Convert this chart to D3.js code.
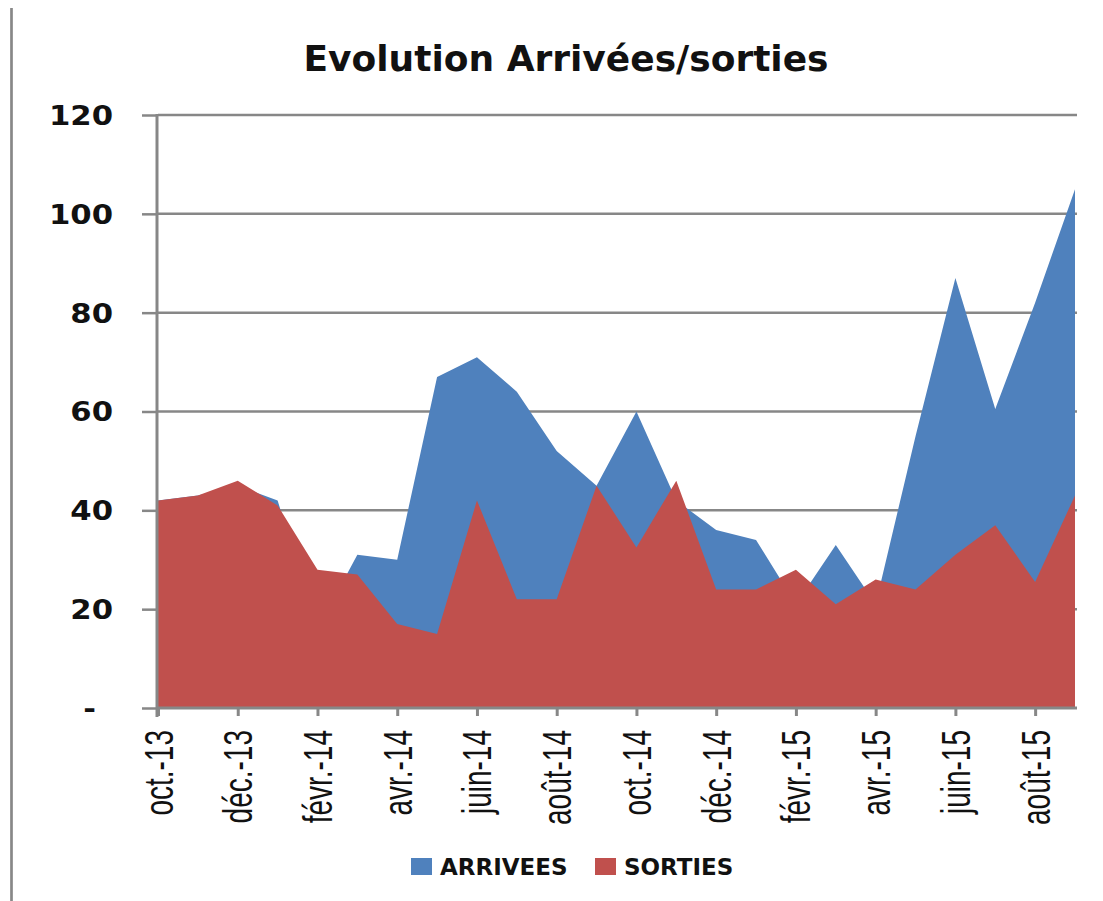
<!DOCTYPE html>
<html>
<head>
<meta charset="utf-8">
<script src="https://cdn.jsdelivr.net/npm/d3@7"></script>
<style>
  body { margin: 0; background: #fff; }
  svg { display: block; }
</style>
</head>
<body>
<div id="chart"></div>
<script>
 var blue = '#4F81BD',
     red = '#C0504D',
     grey = '#878787';

 // months on the x axis (oct 2013 -> sept 2015)
 var months = ['oct.-13', 'nov.-13', 'déc.-13', 'janv.-14', 'févr.-14', 'mars-14',
     'avr.-14', 'mai-14', 'juin-14', 'juil.-14', 'août-14', 'sept.-14',
     'oct.-14', 'nov.-14', 'déc.-14', 'janv.-15', 'févr.-15', 'mars-15',
     'avr.-15', 'mai-15', 'juin-15', 'juil.-15', 'août-15', 'sept.-15']

 // values
 var arrivees = [42, 43, 45, 42, 16, 31, 30, 67, 71, 64, 52, 45,
     60, 42, 36, 34, 21, 33, 21, 55, 87, 60.5, 82, 105]
 var sorties = [42, 43, 46, 41, 28, 27, 17, 15, 42, 22, 22, 45,
     32.5, 46, 24, 24, 28, 21, 26, 24, 31, 37, 25.5, 43]

 var yTicks = [0, 20, 40, 60, 80, 100, 120]
 var series = [
     { name: 'ARRIVEES', values: arrivees, color: blue },
     { name: 'SORTIES', values: sorties, color: red }
 ]

 var pic_width = 1103,
     pic_height = 901

 var margin = { top: 115, left: 158, right: 28, bottom: 193 }
 var width = pic_width - margin.left - margin.right,
     height = pic_height - margin.top - margin.bottom

 var svg = d3.select('#chart').append('svg')
     .attr('width', pic_width)
     .attr('height', pic_height)

 // outer frame line on the left
 svg.append('line')
     .attr('x1', 11.5).attr('x2', 11.5)
     .attr('y1', 8).attr('y2', pic_height)
     .style('stroke', '#888').style('stroke-width', 2.7)

 svg.append('text')
     .attr('x', 566).attr('y', 71)
     .attr('text-anchor', 'middle')
     .style('font-family', 'DejaVu Sans')
     .style('font-weight', 'bold')
     .style('font-size', '36px')
     .style('fill', '#111')
     .text('Evolution Arrivées/sorties')

 var g = svg.append('g')
     .attr('transform', 'translate(' + margin.left + ',' + margin.top + ')')

 var xScale = d3.scalePoint().domain(months).range([0, width])
 var yScale = d3.scaleLinear().domain([0, 120]).range([height, 0])

 // horizontal gridlines
 g.append('g').selectAll('line').data(yTicks.slice(1))
     .enter().append('line')
     .attr('x1', 0).attr('x2', width + 2)
     .attr('y1', function(d) { return yScale(d); })
     .attr('y2', function(d) { return yScale(d); })
     .style('stroke', grey).style('stroke-width', 2.5)

 // areas, red drawn over blue (not stacked)
 var area = d3.area()
     .x(function(d, i) { return xScale(months[i]); })
     .y0(yScale(0))
     .y1(function(d) { return yScale(d); })

 g.selectAll('path.area').data(series)
     .enter().append('path')
     .attr('class', 'area')
     .attr('d', function(s) { return area(s.values); })
     .style('fill', function(s) { return s.color; })

 // y axis
 var yAxis = d3.axisLeft(yScale).tickValues(yTicks).tickSize(16).tickPadding(0)
     .tickFormat(function(d) { return d === 0 ? '-' : d; })
 var yG = g.append('g').call(yAxis)
 yG.select('.domain').remove()
 yG.selectAll('.tick line').style('stroke', grey).style('stroke-width', 2.5)
 yG.selectAll('.tick text')
     .attr('x', function(d) { return d === 0 ? -62 / 1.18 : -45 / 1.18; })
     .attr('dy', '0.36em')
     .attr('transform', 'scale(1.18,1)')
     .style('font-family', 'DejaVu Sans')
     .style('font-weight', 'bold')
     .style('font-size', '26px')
     .style('fill', '#111')
 g.append('line')
     .attr('x1', -1).attr('x2', -1)
     .attr('y1', -1).attr('y2', height + 9)
     .style('stroke', grey).style('stroke-width', 3)

 // x axis, a label every two months
 var xAxis = d3.axisBottom(xScale)
     .tickValues(months.filter(function(d, i) { return i % 2 === 0; }))
     .tickSize(8)
 var xG = g.append('g')
     .attr('transform', 'translate(0,' + height + ')')
     .call(xAxis)
 xG.select('.domain').remove()
 xG.selectAll('.tick line').style('stroke', grey).style('stroke-width', 3)
 xG.selectAll('.tick text')
     .attr('x', 0).attr('y', 0).attr('dy', 0)
     .attr('text-anchor', 'end')
     .attr('transform', 'translate(14,22) rotate(-90) scale(0.7,1)')
     .style('font-family', 'Liberation Sans')
     .style('font-size', '40px')
     .style('fill', '#111')
 g.append('line')
     .attr('x1', -2).attr('x2', width + 2)
     .attr('y1', height).attr('y2', height)
     .style('stroke', grey).style('stroke-width', 3)

 // legend
 var legendX = [411, 595]
 var legend = svg.append('g').selectAll('g').data(series)
     .enter().append('g')
     .attr('transform', function(d, i) { return 'translate(' + legendX[i] + ',858)'; })
 legend.append('rect')
     .attr('width', 21).attr('height', 17)
     .style('fill', function(d) { return d.color; })
 legend.append('text')
     .attr('x', 29).attr('y', 17)
     .style('font-family', 'DejaVu Sans')
     .style('font-weight', 'bold')
     .style('font-size', '23px')
     .style('fill', '#111')
     .text(function(d) { return d.name; })
</script>
</body>
</html>
